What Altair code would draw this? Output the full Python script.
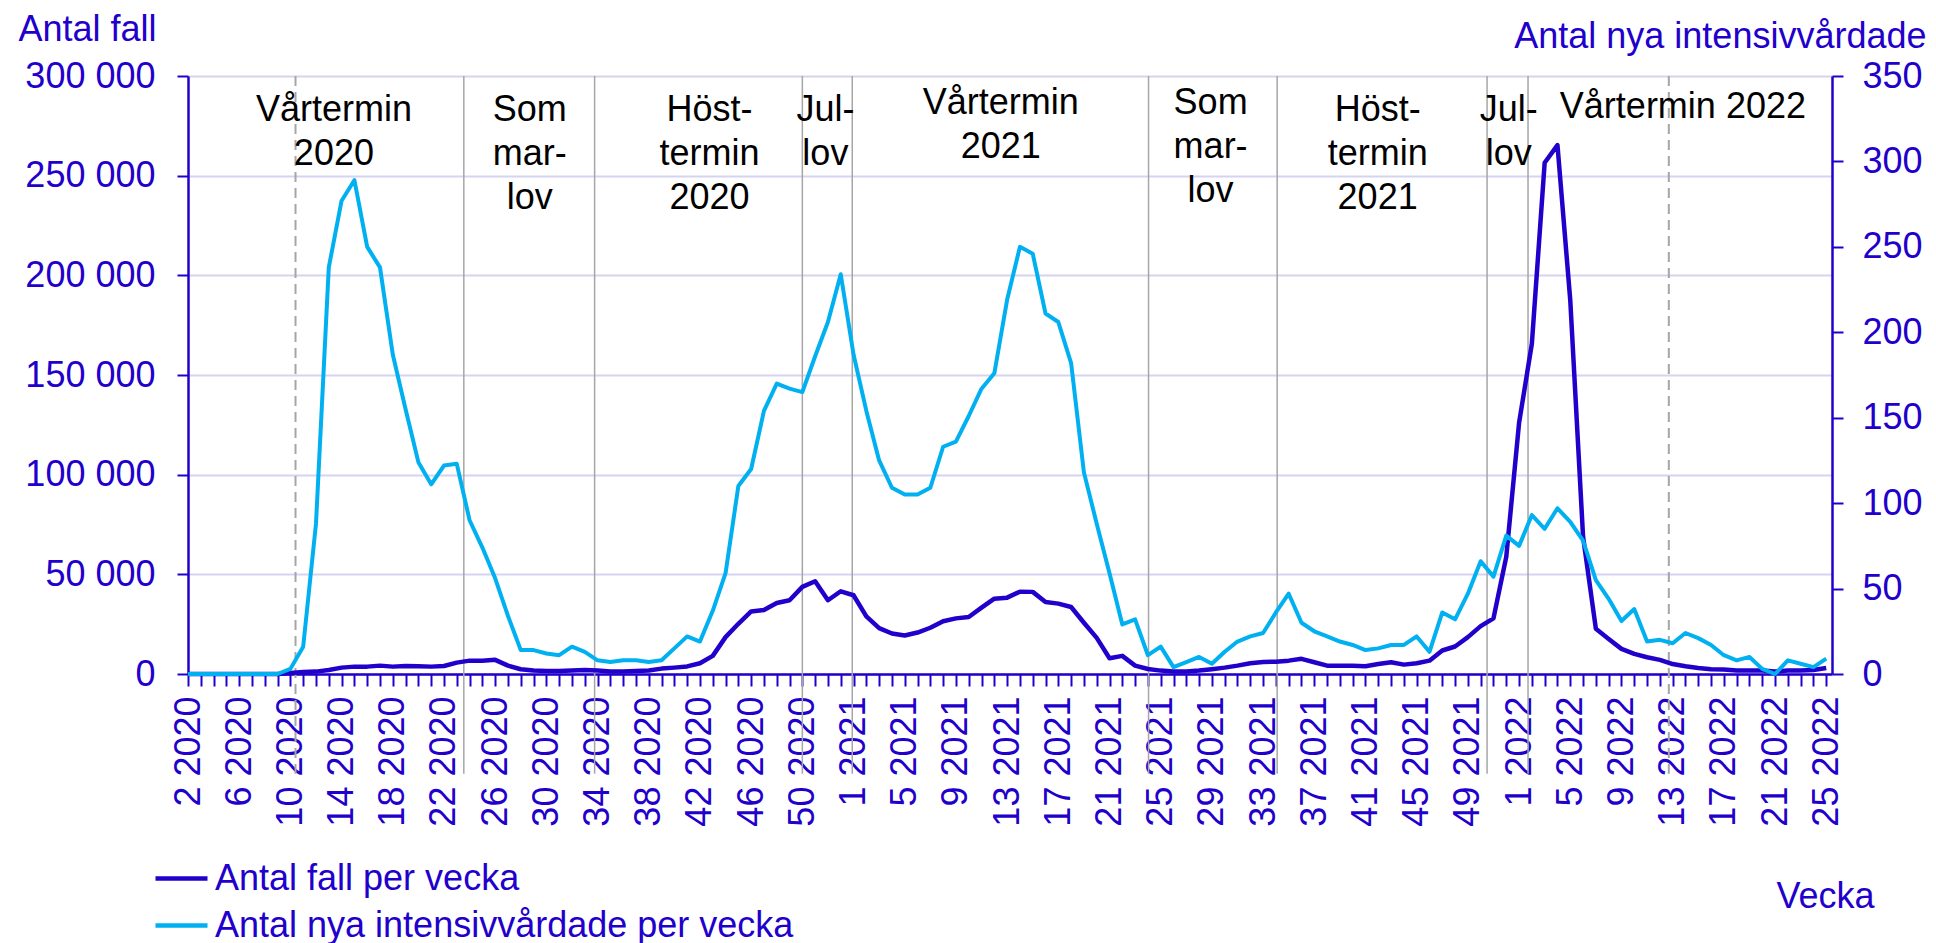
import altair as alt
import pandas as pd

# ---- categories: ISO weeks 2 2020 .. 25 2022 ----
YEAR_WEEKS = [(2020, range(2, 54)), (2021, range(1, 53)), (2022, range(1, 26))]
week_labels = [f"{w} {y}" for y, ws in YEAR_WEEKS for w in ws]

# ---- series values ----
cases = [
    0, 0, 0, 0, 0, 0, 0, 0,
    500, 1000, 1200, 2000, 3200, 3700, 3700, 4200, 3700, 4000,
    3900, 3700, 4000, 5700, 6700, 6700, 7100, 4200, 2400, 1800,
    1500, 1500, 1800, 2000, 1700, 1200, 1300, 1500, 1800, 2700,
    3200, 3800, 5400, 9100, 18500, 25200, 31400, 32100, 35600, 37000,
    43700, 46500, 37000, 41500, 39500, 28900, 23000, 20300, 19300, 20800,
    23200, 26500, 27900, 28600, 33300, 37800, 38300, 41300, 41200, 36100,
    35300, 33600, 25700, 18100, 7900, 9100, 4200, 2500, 1700, 1300,
    1200, 1700, 2400, 3200, 4200, 5400, 6000, 6200, 6700, 7600,
    5900, 4200, 4200, 4200, 3900, 5000, 5900, 4700, 5400, 6700,
    11800, 13800, 18500, 24000, 27900, 58800, 126000, 165700, 256500, 265300,
    187500, 68900, 22700, 17600, 12600, 10100, 8400, 7100, 5000, 3900,
    3000, 2400, 2200, 1800, 1700, 1700, 1300, 1700, 1800, 2000,
    3000,
]
icu = [
    0, 0, 0, 0, 0, 0, 0, 0,
    3, 16, 88, 238, 277, 289, 250, 238, 187, 155,
    124, 111, 122, 123, 90, 74, 56, 34, 14, 14,
    12, 11, 16, 13, 8, 7, 8, 8, 7, 8,
    15, 22, 19, 37, 59, 110, 120, 154, 170, 167,
    165, 186, 206, 234, 187, 154, 125, 109, 105, 105,
    109, 133, 136, 151, 167, 176, 219, 250, 246, 211,
    206, 182, 118, 88, 59, 29, 32, 11, 16, 4,
    7, 10, 6, 13, 19, 22, 24, 36, 47, 30,
    25, 22, 19, 17, 14, 15, 17, 17, 22, 13,
    36, 32, 47, 66, 57, 81, 75, 93, 85, 97,
    89, 78, 55, 44, 31, 38, 19, 20, 18, 24,
    21, 17, 11, 8, 10, 3, 0, 8, 6, 4,
    9,
]

series_names = ["Antal fall per vecka", "Antal nya intensivvårdade per vecka"]

# school-period boundaries (in week-index units)
solid_bounds = [21.55, 31.77, 48.0, 51.9, 75.05, 85.1, 101.5, 104.7]
dashed_bounds = [8.4, 115.7]

# period labels
ann_text = ["Vårtermin\n2020", "Som\nmar-\nlov", "Höst-\ntermin\n2020", "Jul-\nlov",
            "Vårtermin\n2021", "Som\nmar-\nlov", "Höst-\ntermin\n2021", "Jul-\nlov",
            "Vårtermin 2022"]
ann_x = [11.4, 26.7, 40.75, 49.8, 63.5, 79.9, 92.95, 103.2, 116.8]
ann_top = [291300, 291300, 291300, 291300, 294800, 294800, 291300, 291300, 293000]

# ---- tables ----
n = len(week_labels)
idx = list(range(n))
df_cases = pd.DataFrame({"idx": idx, "vecka": week_labels, "v": cases, "serie": series_names[0]})
df_icu = pd.DataFrame({"idx": idx, "vecka": week_labels, "v": icu, "serie": series_names[1]})
df_solid = pd.DataFrame({"idx": solid_bounds})
df_dashed = pd.DataFrame({"idx": dashed_bounds})
df_ann = pd.DataFrame({"idx": ann_x, "top": ann_top, "txt": ann_text})

BLUE = "#2200CC"
LIGHT = "#00B0F0"
FONT = "Liberation Sans"
FS = 36

tick_text = [lab if i % 4 == 0 else "" for i, lab in enumerate(week_labels)]
label_array = "[" + ",".join("'" + t + "'" for t in tick_text) + "]"

x_scale = alt.Scale(domain=[0, 128.45], nice=False, zero=False)
x_axis = alt.Axis(
    values=idx, labelExpr=label_array + "[datum.value]", labelAngle=-90,
    labelOverlap=False, labelFlush=False, labelBound=False,
    labelFontSize=FS, labelColor=BLUE, labelPadding=10, labelFont=FONT,
    tickSize=12, tickWidth=2, tickColor=BLUE, domainColor=BLUE, domainWidth=2.5,
    grid=False, title="Vecka", titleFontSize=FS, titleFontWeight="normal", titleColor=BLUE,
    titleAngle=0, titleAlign="left", titleBaseline="alphabetic", titleX=1588, titleY=233,
    titleFont=FONT,
)
left_scale = alt.Scale(domain=[0, 300000], nice=False, zero=True)
left_axis = alt.Axis(
    values=list(range(0, 300001, 50000)),
    labelExpr="datum.value == 0 ? '0' : format(datum.value / 1000, 'd') + ' 000'",
    labelFontSize=FS, labelColor=BLUE, labelPadding=22, labelFont=FONT,
    tickSize=11, tickWidth=2, tickColor=BLUE, domainColor=BLUE, domainWidth=2.5,
    grid=True, gridColor="#D4D4F2", gridWidth=2,
    title="Antal fall", titleFontSize=FS, titleFontWeight="normal", titleColor=BLUE,
    titleAngle=0, titleAlign="left", titleBaseline="alphabetic", titleX=-170, titleY=-36,
    titleFont=FONT,
)
right_scale = alt.Scale(domain=[0, 350], nice=False, zero=True)
right_axis = alt.Axis(
    orient="right", values=list(range(0, 351, 50)),
    labelFontSize=FS, labelColor=BLUE, labelPadding=19, labelFont=FONT,
    tickSize=11, tickWidth=2, tickColor=BLUE, domainColor=BLUE, domainWidth=2.5,
    grid=False,
    title="Antal nya intensivvårdade", titleFontSize=FS, titleFontWeight="normal", titleColor=BLUE,
    titleAngle=0, titleAlign="right", titleBaseline="alphabetic", titleX=94, titleY=-29,
    titleFont=FONT,
)

color = alt.Color(
    "serie:N",
    scale=alt.Scale(domain=series_names, range=[BLUE, LIGHT]),
    legend=alt.Legend(
        orient="none", legendX=-35, legendY=774, direction="vertical", title=None,
        labelFontSize=FS, labelColor=BLUE, labelFont=FONT, labelLimit=2000, labelOffset=5,
        symbolType="stroke", symbolSize=2704, symbolStrokeWidth=4.5,
        rowPadding=0, padding=0,
    ),
)

X = alt.X("idx:Q", scale=x_scale, axis=x_axis)

solid_rules = alt.Chart(df_solid).mark_rule(color="#A6A6A6", strokeWidth=1.5, clip=False).encode(
    x=X,
    y=alt.YDatum(300000, type="quantitative", scale=left_scale, axis=left_axis),
    y2=alt.Y2Datum(-50000),
)
dashed_rules = alt.Chart(df_dashed).mark_rule(color="#A6A6A6", strokeWidth=2, strokeDash=[10, 6], clip=False).encode(
    x=X,
    y=alt.YDatum(300000, type="quantitative", scale=left_scale, axis=left_axis),
    y2=alt.Y2Datum(-50000),
)
ann = alt.Chart(df_ann).mark_text(
    align="center", baseline="top", lineBreak="\n", lineHeight=44,
    fontSize=FS, font=FONT, color="black",
).encode(
    x=X,
    y=alt.Y("top:Q", scale=left_scale, axis=left_axis),
    text="txt:N",
)
cases_line = alt.Chart(df_cases).mark_line(strokeWidth=4.5, strokeJoin="round").encode(
    x=X,
    y=alt.Y("v:Q", scale=left_scale, axis=left_axis),
    color=color,
)
icu_line = alt.Chart(df_icu).mark_line(strokeWidth=4, strokeJoin="round").encode(
    x=X,
    y=alt.Y("v:Q", scale=right_scale, axis=right_axis),
    color=color,
)

left = alt.layer(solid_rules, dashed_rules, ann, cases_line)
chart = alt.layer(left, icu_line).resolve_scale(y="independent").properties(
    width=1644, height=598,
    autosize=alt.AutoSizeParams(type="none"),
    padding={"left": 180, "top": 68, "right": 96, "bottom": 269},
).configure(font=FONT).configure_view(strokeWidth=0)

chart.save("out.html", embed_options={"renderer": "svg", "actions": False})
